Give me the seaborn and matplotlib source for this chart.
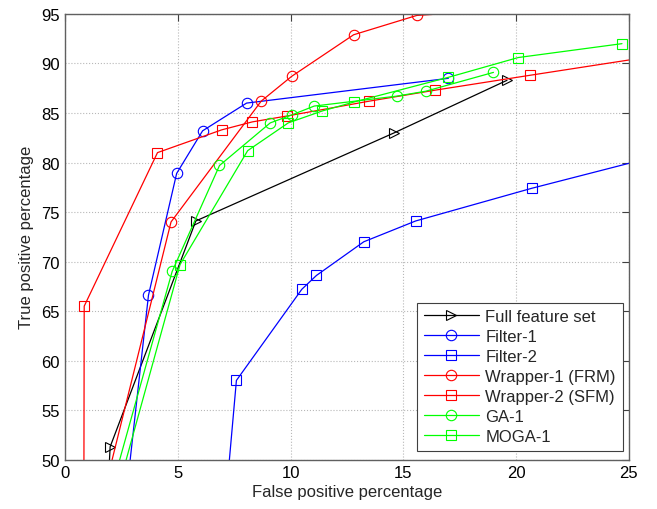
import matplotlib
matplotlib.use('Agg')
import matplotlib.pyplot as plt
import seaborn as sns

# values (first / last points lie outside the view and get clipped)
full_x = [1.75, 2.0, 5.8, 14.6, 19.6]
full_y = [40, 51.3, 74.1, 83.0, 88.3]
filter1_x = [2.4, 3.7, 4.95, 6.1, 8.05, 17.0]
filter1_y = [40, 66.6, 78.9, 83.2, 86.0, 88.5]
filter2_x = [6.9, 7.6, 10.5, 11.15, 13.25, 15.55, 20.7, 26.0]
filter2_y = [40, 58.0, 67.2, 68.6, 72.0, 74.1, 77.4, 80.5]
wrapper1_x = [1.0, 4.7, 8.7, 10.05, 12.8, 15.6, 25.5]
wrapper1_y = [40, 74.0, 86.2, 88.7, 92.9, 94.85, 96.3]
wrapper2_x = [0.83, 0.85, 4.1, 6.95, 8.3, 9.85, 13.5, 16.4, 20.6, 26.0]
wrapper2_y = [40, 65.5, 81.0, 83.3, 84.1, 84.7, 86.2, 87.3, 88.8, 90.7]
ga1_x = [1.2, 4.75, 6.85, 9.1, 10.05, 11.05, 14.7, 16.0, 19.0]
ga1_y = [40, 69.0, 79.7, 84.0, 84.8, 85.7, 86.7, 87.2, 89.1]
moga1_x = [1.5, 5.1, 8.1, 9.9, 11.4, 12.8, 17.0, 20.1, 24.7]
moga1_y = [40, 69.7, 81.2, 84.0, 85.2, 86.1, 88.6, 90.6, 92.0]

series = [
    ('Full feature set', full_x, full_y, 'black', '>'),
    ('Filter-1', filter1_x, filter1_y, 'blue', 'o'),
    ('Filter-2', filter2_x, filter2_y, 'blue', 's'),
    ('Wrapper-1 (FRM)', wrapper1_x, wrapper1_y, 'red', 'o'),
    ('Wrapper-2 (SFM)', wrapper2_x, wrapper2_y, 'red', 's'),
    ('GA-1', ga1_x, ga1_y, '#00ff00', 'o'),
    ('MOGA-1', moga1_x, moga1_y, '#00ff00', 's'),
]

sns.set_style('white')
plt.rcParams['font.family'] = ['Liberation Sans', 'DejaVu Sans']
plt.rcParams['font.size'] = 12

fig = plt.figure(figsize=(6.57, 5.10), dpi=100)
ax = fig.add_axes([0.099, 0.0967, 0.858, 0.874])

for name, xs, ys, col, mk in series:
    sns.lineplot(x=xs, y=ys, ax=ax, color=col, marker=mk, markersize=7.5,
                 markerfacecolor='none', markeredgecolor=col, markeredgewidth=0.8,
                 linewidth=0.9, sort=False, estimator=None, label=name)

ax.set_xlim(0, 25)
ax.set_ylim(50, 95)
ax.set_xticks(range(0, 26, 5))
ax.set_yticks(range(50, 96, 5))
ax.grid(True, linestyle=':', color='#b8b8b8', linewidth=0.8)
ax.tick_params(direction='in', length=5, width=0.8, top=True, right=True,
               colors='#404040', labelcolor='black', labelsize=12, pad=4)
for sp in ax.spines.values():
    sp.set_color('#606060')
    sp.set_linewidth(1.0)

ax.set_xlabel('False positive percentage', fontsize=12, labelpad=3)
ax.set_ylabel('True positive percentage', fontsize=12, labelpad=5)

leg = ax.legend(loc='lower right', bbox_to_anchor=(0.989, 0.0195), borderaxespad=0,
                fancybox=False, framealpha=1, edgecolor='#404040', fontsize=12,
                handlelength=3.3, handletextpad=0.4, labelspacing=0.3, borderpad=0.4)
leg.get_frame().set_linewidth(0.8)

plt.savefig('out.png', dpi=100)
